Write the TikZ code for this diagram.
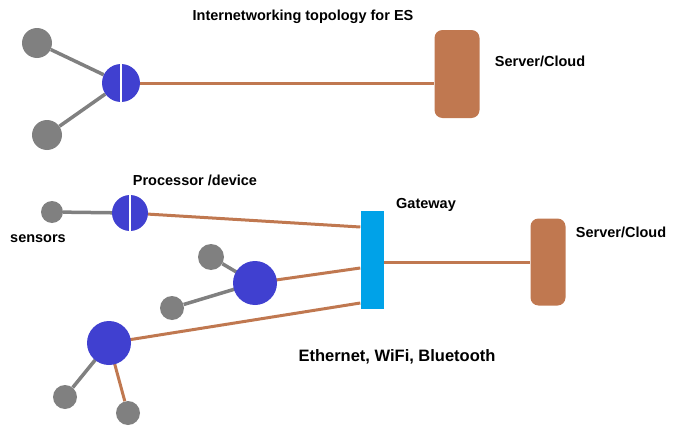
\documentclass[tikz,border=0pt]{standalone}
\usepackage{fontspec}
\setmainfont{Liberation Sans}
\usepackage{tikz}
\usetikzlibrary{positioning, calc, backgrounds}

\definecolor{sensgray}{RGB}{128,128,128}
\definecolor{procblue}{RGB}{64,64,208}
\definecolor{linkbrown}{RGB}{192,120,80}
\definecolor{gwcyan}{RGB}{0,162,232}

\tikzset{
  sensor/.style={circle, fill=sensgray, inner sep=0pt},
  proc/.style={circle, fill=procblue, inner sep=0pt},
  server/.style={rectangle, rounded corners=8pt, fill=linkbrown, inner sep=0pt},
  gway/.style={rectangle, fill=gwcyan, inner sep=0pt, minimum width=23pt, minimum height=98pt},
  glink/.style={draw=sensgray, line width=3.5pt},
  blink/.style={draw=linkbrown, line width=3pt},
  lbl/.style={font=\fontsize{14.5}{17}\selectfont\bfseries, inner sep=0pt}
}

\begin{document}
\begin{tikzpicture}[x=1pt, y=-1pt]
        \useasboundingbox (0,0) rectangle (681,431);
        % top: single device to cloud
        \node[lbl] (title) at (303,17) {Internetworking topology for ES};
        \node[sensor, minimum size=30pt] (s1) at (37,43) {};
        \node[sensor, minimum size=30pt] (s2) at (47,135) {};
        \node[proc, minimum size=38pt] (p1) at (121,83) {};
        \node[server, minimum width=45pt, minimum height=88pt] (c1) at (457,74) {};
        \node[lbl, right=15pt of c1, yshift=13pt] (c1lbl) {Server/Cloud};
        \begin{scope}[on background layer]
        \draw
        (s1) edge[glink] (p1)
        (s2) edge[glink] (p1)
        (p1) edge[blink] (c1.west |- p1)
        ;
        \end{scope}
        \draw[white, line width=2pt] (p1.north) -- (p1.south);
        % bottom: devices through gateway
        \node[sensor, minimum size=22pt] (s3) at (52,212) {};
        \node[lbl, anchor=center] (senslbl) at (38,239) {sensors};
        \node[proc, minimum size=36pt] (p2) at (130,213) {};
        \node[lbl] (p2lbl) at (195,180) {Processor /device};
        \node[gway] (gw) at (372,260) {};
        \node[lbl] (gwlbl) at (426,205) {Gateway};
        \node[server, minimum width=35pt, minimum height=87pt] (c2) at (548,262) {};
        \node[lbl] (c2lbl) at (621,232) {Server/Cloud};
        \node[proc, minimum size=44pt] (p3) at (255,283) {};
        \node[sensor, minimum size=26pt] (s4) at (211,257) {};
        \node[sensor, minimum size=24pt] (s5) at (172,308) {};
        \node[proc, minimum size=44pt] (p4) at (109,343) {};
        \node[sensor, minimum size=24pt] (s6) at (65,397) {};
        \node[sensor, minimum size=24pt] (s7) at (128,413) {};
        \node[lbl, font=\fontsize{16.5}{19}\selectfont\bfseries] (netlbl) at (397,357) {Ethernet, WiFi, Bluetooth};
        \begin{scope}[on background layer]
        \draw
        (s3) edge[glink] (p2)
        (s4) edge[glink] (p3.center)
        (s5) edge[glink] (p3.center)
        (s6) edge[glink] (p4.center)
        (s7) edge[blink] (p4.center)
        (p2) edge[blink] (gw.west |- 0,227)
        (p3.center) edge[blink] (gw.west |- 0,268)
        (p4.center) edge[blink] (gw.west |- 0,303)
        (gw.east |- 0,262) edge[blink] (c2.west |- 0,262)
        ;
        \end{scope}
        \draw[white, line width=2pt] (p2.north) -- (p2.south);
\end{tikzpicture}
\end{document}
